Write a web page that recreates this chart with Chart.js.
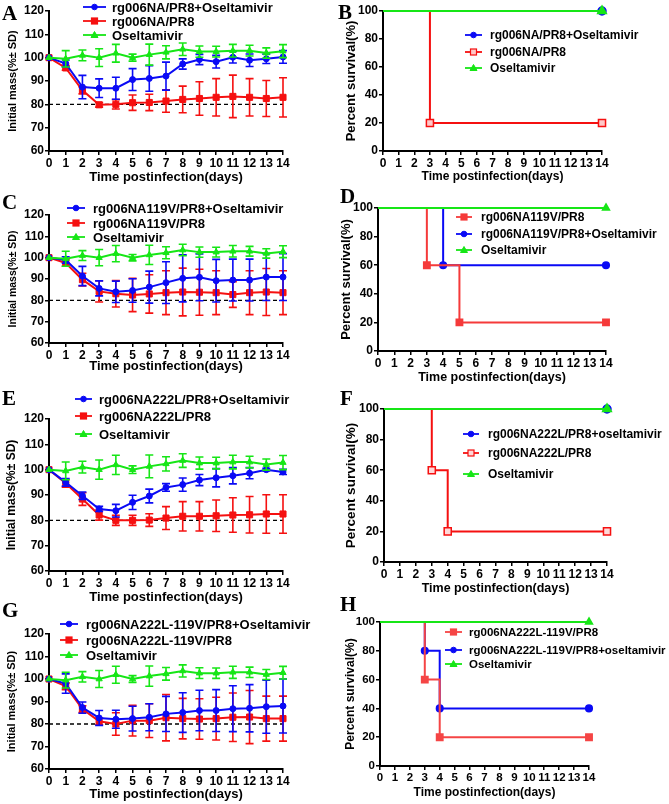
<!DOCTYPE html>
<html>
<head>
<meta charset="utf-8">
<script src="https://cdn.jsdelivr.net/npm/chart.js@4.4.1/dist/chart.umd.min.js"></script>
<style>
body { margin: 0; background: #fff; width: 669px; height: 804px; position: relative; overflow: hidden; }
canvas { position: absolute; }
.letter { position: absolute; font: bold 21px "Liberation Serif", "Times New Roman", serif; line-height: 1; color: #000; }
.leg { position: absolute; display: flex; align-items: center; height: 14px; white-space: nowrap;
       font-family: "Liberation Sans", Arial, sans-serif; font-weight: bold; color: #000; }
.leg svg { flex: none; }
</style>
</head>
<body>
<script>
const FONT = '"Liberation Sans", Arial, sans-serif';
const BLUE = '#0a0af5';
const RED = '#f51010';
const GREEN = '#16e616';

// days after infection
const days = [0, 1, 2, 3, 4, 5, 6, 7, 8, 9, 10, 11, 12, 13, 14];

// Oseltamivir only group (same curve in A, C, E, G)
const oselMean = [100, 99.5, 101, 100, 101.9, 100, 101.3, 102.3, 103.6, 102.6, 102.6, 103, 103, 102, 102.8];
const oselSd = [0, 3.5, 2.3, 3.8, 3.8, 1.5, 4.5, 2.8, 2.7, 2.4, 2.3, 2.7, 2.3, 2.2, 2.8];

// A: rg006NA
const aTreatMean = [100, 97.5, 87.4, 86.9, 86.9, 90.6, 91.1, 92.1, 97.3, 99.2, 98.3, 100.2, 98.9, 99.5, 100.3];
const aTreatSd = [0, 1.5, 5, 4, 4.7, 4.7, 5.5, 6, 2.2, 2.2, 2.7, 2.5, 2.7, 2, 2.7];
const aVirusMean = [100, 95.6, 86, 79.8, 80, 80.7, 80.8, 81.4, 82.1, 82.5, 83, 83.4, 83, 82.5, 83];
const aVirusSd = [0, 1, 1.5, 1, 2, 3.3, 3.5, 4.8, 5.7, 7.2, 8, 9.1, 8, 7.7, 8.4];

// C: rg006NA119V
const cTreatMean = [100, 98.9, 91.4, 85.6, 84, 84.6, 86.2, 88.3, 90.3, 90.8, 89.2, 89.5, 89.5, 90.9, 90.9];
const cTreatSd = [0, 1.5, 4.5, 3.5, 5, 5.5, 7.5, 9.8, 11, 11, 10, 9.8, 9.8, 11, 11];
const cVirusMean = [100, 97.5, 89.7, 84.2, 83.1, 82.5, 83, 83.6, 83.9, 83.8, 83.6, 82.7, 83.6, 83.9, 83.6];
const cVirusSd = [0, 1.5, 3, 5, 6.2, 7.8, 9, 10.3, 11.2, 10.8, 10.3, 6, 10.3, 11, 10.3];

// E: rg006NA222L
const eTreatMean = [100, 95, 89.7, 84.5, 83.8, 87.1, 89.6, 93, 94.1, 95.9, 96.8, 97.6, 98.6, 100, 99.1];
const eTreatSd = [0, 1.5, 1.5, 1, 2.5, 2.8, 2.7, 1.5, 2.6, 2.2, 3.6, 3.2, 2.2, 0.5, 1];
const eVirusMean = [100, 94.6, 88.4, 82.1, 80, 80, 80.1, 80.9, 81.6, 81.6, 81.8, 82.1, 82.2, 82.5, 82.5];
const eVirusSd = [0, 1.5, 2.5, 2, 2, 2, 2.5, 4.5, 5.8, 5.8, 6.2, 6.8, 7.2, 7.6, 7.6];

// G: rg006NA222L-119V
const gTreatMean = [100, 98, 87.3, 82.7, 82.1, 82.4, 83, 84.5, 85.1, 86, 86, 86.8, 87, 87.7, 88];
const gTreatSd = [0, 4.3, 2.5, 3.3, 4, 5.5, 6, 7.8, 8.8, 9, 9.3, 10.2, 10.5, 11.8, 12];
const gVirusMean = [100, 96.8, 86.6, 81.2, 80, 81.5, 81.5, 82.8, 82.4, 82.2, 82.4, 83, 83.1, 82.4, 82.4];
const gVirusSd = [0, 1.5, 1.5, 1.5, 5, 6.8, 7.5, 10.3, 9, 9, 9.5, 10.8, 11.8, 10, 10];

// survival (step points: day, percent)
const allAliveDays = [0, 14];
const allAlivePct = [100, 100];
const bVirusDays = [0, 3, 14];
const bVirusPct = [100, 20, 20];
const dVirusDays = [0, 3, 5, 14];
const dVirusPct = [100, 60, 20, 20];
const dTreatDays = [0, 4, 14];
const dTreatPct = [100, 60, 60];
const fVirusDays = [0, 3, 4, 14];
const fVirusPct = [100, 60, 20, 20];
const hVirusDays = [0, 3, 4, 14];
const hVirusPct = [100, 60, 20, 20];
const hTreatDays = [0, 3, 4, 14];
const hTreatPct = [100, 80, 40, 40];

// error bars drawn through the y scale
const errorBars = {
  id: 'errorBars',
  beforeDatasetDraw(chart, args) {
    const ds = chart.data.datasets[args.index];
    if (!ds.sd) return;
    const ys = chart.scales.y;
    const ctx = chart.ctx;
    ctx.save();
    ctx.strokeStyle = ds.borderColor;
    ctx.lineWidth = 1.6;
    args.meta.data.forEach((pt, i) => {
      const s = ds.sd[i];
      if (!s) return;
      const v = ds.data[i].y;
      const top = ys.getPixelForValue(v + s);
      const bot = ys.getPixelForValue(v - s);
      ctx.beginPath();
      ctx.moveTo(pt.x, top); ctx.lineTo(pt.x, bot);
      ctx.moveTo(pt.x - 4, top); ctx.lineTo(pt.x + 4, top);
      ctx.moveTo(pt.x - 4, bot); ctx.lineTo(pt.x + 4, bot);
      ctx.stroke();
    });
    ctx.restore();
  }
};

function place(p) {
  const cv = document.createElement('canvas');
  cv.width = p.canvas.w;
  cv.height = p.canvas.h;
  cv.style.left = p.canvas.l + 'px';
  cv.style.top = p.canvas.t + 'px';
  document.body.appendChild(cv);
  return cv;
}

function options(p, min, max, step, ytitle) {
  const c = p.canvas, a = p.area;
  const tickFont = { family: FONT, size: p.tick, weight: 'bold' };
  return {
    responsive: false,
    animation: false,
    events: [],
    layout: { padding: { left: 0, top: a.t - c.t, right: c.l + c.w - a.r, bottom: 0 } },
    plugins: { legend: { display: false }, tooltip: { enabled: false } },
    scales: {
      x: {
        type: 'linear', min: 0, max: 14,
        ticks: { stepSize: 1, autoSkip: false, maxRotation: 0, color: '#000', font: tickFont, padding: 1 },
        grid: { drawOnChartArea: false, color: '#000', lineWidth: 1.5, tickLength: 4 },
        border: { color: '#000', width: 2 },
        title: {
          display: true, text: 'Time postinfection(days)', color: '#000',
          font: { family: FONT, size: p.xt, weight: 'bold' },
          padding: { top: 0, bottom: c.t + c.h - p.xtY - p.xt * 0.6 }
        },
        afterFit: s => { s.height = c.t + c.h - a.b; }
      },
      y: {
        min: min, max: max,
        ticks: { stepSize: step, color: '#000', font: tickFont, padding: 1 },
        grid: { drawOnChartArea: false, color: '#000', lineWidth: 1.5, tickLength: 4 },
        border: { color: '#000', width: 2 },
        title: {
          display: true, text: ytitle, color: '#000',
          font: { family: FONT, size: p.yt, weight: 'bold' },
          padding: { top: p.ytX - c.l - p.yt * 0.6, bottom: 0 }
        },
        afterFit: s => { s.width = a.l - c.l; }
      }
    }
  };
}

function massPanel(p) {
  const cv = place(p);
  const sets = p.series.map(s => ({
    data: days.map((d, i) => ({ x: d, y: s.mean[i] })),
    sd: s.sd,
    borderColor: s.color,
    backgroundColor: s.color,
    borderWidth: 2,
    pointStyle: s.shape,
    pointRadius: s.r,
    pointBorderWidth: 1,
    order: s.order,
    clip: false
  }));
  sets.push({
    data: [{ x: 0, y: 80 }, { x: 14, y: 80 }],
    borderColor: '#000', borderWidth: 1.3, borderDash: [4, 3],
    pointRadius: 0, order: 9
  });
  new Chart(cv, {
    type: 'line',
    data: { datasets: sets },
    options: options(p, 60, 120, 10, 'Initial mass(%\u00b1 SD)'),
    plugins: [errorBars]
  });
}

function survPanel(p) {
  const cv = place(p);
  const sets = p.series.map(s => ({
    data: s.days.map((d, i) => ({ x: d, y: s.pct[i] })),
    stepped: 'before',
    borderColor: s.color,
    backgroundColor: s.fill,
    borderWidth: 2,
    pointStyle: s.shape,
    pointRadius: s.days.map((d, i) => (i === 0 ? 0 : s.r)),
    pointBorderColor: s.color,
    pointBorderWidth: 1.5,
    order: s.order,
    clip: false
  }));
  new Chart(cv, {
    type: 'line',
    data: { datasets: sets },
    options: options(p, 0, 100, 20, 'Percent survival(%)')
  });
}

function marker(shape, color, fill, len) {
  const m = len / 2;
  let mk = '';
  if (shape === 'circle') mk = `<circle cx="${m}" cy="6" r="2.8" fill="${fill}" stroke="${color}" stroke-width="1"/>`;
  if (shape === 'rect') mk = `<rect x="${m - 3}" y="3" width="6" height="6" fill="${fill}" stroke="${color}" stroke-width="1.2"/>`;
  if (shape === 'triangle') mk = `<polygon points="${m},2.5 ${m + 3.5},8.5 ${m - 3.5},8.5" fill="${fill}" stroke="${color}" stroke-width="1"/>`;
  return `<svg width="${len}" height="12"><line x1="0" y1="6" x2="${len}" y2="6" stroke="${color}" stroke-width="1.8"/>${mk}</svg>`;
}

function legend(lg) {
  lg.items.forEach((it, k) => {
    const d = document.createElement('div');
    d.className = 'leg';
    d.style.left = lg.x + 'px';
    d.style.top = (lg.rows[k] - 7) + 'px';
    d.style.fontSize = lg.size + 'px';
    d.innerHTML = marker(it.shape, it.color, it.fill || it.color, lg.len) +
      `<span style="margin-left:${lg.gap}px">${it.label}</span>`;
    document.body.appendChild(d);
  });
}

function letter(ch, x, y) {
  const d = document.createElement('div');
  d.className = 'letter';
  d.textContent = ch;
  d.style.left = x + 'px';
  d.style.top = y + 'px';
  document.body.appendChild(d);
}

const blueS = (mean, sd) => ({ mean, sd, color: BLUE, shape: 'circle', r: 3, order: 1 });
const redS = (mean, sd) => ({ mean, sd, color: RED, shape: 'rect', r: 4.3, order: 2 });
const greenS = () => ({ mean: oselMean, sd: oselSd, color: GREEN, shape: 'triangle', r: 3.6, order: 0 });

// weight panels
massPanel({ canvas: { l: 0, t: 0, w: 330, h: 189 }, area: { l: 49, t: 11, r: 283, b: 151 },
  tick: 12, xt: 13, xtY: 177, yt: 11, ytX: 13,
  series: [blueS(aTreatMean, aTreatSd), redS(aVirusMean, aVirusSd), greenS()] });
massPanel({ canvas: { l: 0, t: 195, w: 330, h: 183 }, area: { l: 49, t: 215, r: 283, b: 343 },
  tick: 12, xt: 13, xtY: 366, yt: 10.5, ytX: 13,
  series: [blueS(cTreatMean, cTreatSd), redS(cVirusMean, cVirusSd), greenS()] });
massPanel({ canvas: { l: 0, t: 400, w: 330, h: 209 }, area: { l: 49, t: 419, r: 283, b: 571 },
  tick: 12, xt: 13, xtY: 597, yt: 12, ytX: 12,
  series: [blueS(eTreatMean, eTreatSd), redS(eVirusMean, eVirusSd), greenS()] });
massPanel({ canvas: { l: 0, t: 615, w: 330, h: 189 }, area: { l: 49, t: 634, r: 283, b: 769 },
  tick: 12, xt: 13, xtY: 794, yt: 11, ytX: 12,
  series: [blueS(gTreatMean, gTreatSd), redS(gVirusMean, gVirusSd), greenS()] });

// survival panels
const sv = (days, pct, color, fill, shape, r, order) => ({ days, pct, color, fill, shape, r, order });
survPanel({ canvas: { l: 335, t: 0, w: 334, h: 189 }, area: { l: 383, t: 11, r: 602, b: 151 },
  tick: 12, xt: 12, xtY: 177, yt: 13, ytX: 351,
  series: [sv(allAliveDays, allAlivePct, BLUE, BLUE, 'circle', 4, 2),
           sv(bVirusDays, bVirusPct, RED, '#ffc8c8', 'rect', 5, 1),
           sv(allAliveDays, allAlivePct, GREEN, GREEN, 'triangle', 5, 0)] });
survPanel({ canvas: { l: 335, t: 190, w: 334, h: 200 }, area: { l: 378, t: 208, r: 606, b: 351 },
  tick: 12, xt: 12.5, xtY: 378, yt: 13, ytX: 346,
  series: [sv(dVirusDays, dVirusPct, '#f53a3a', '#f53a3a', 'rect', 4.5, 1),
           sv(dTreatDays, dTreatPct, BLUE, BLUE, 'circle', 3.3, 2),
           sv(allAliveDays, allAlivePct, GREEN, GREEN, 'triangle', 4, 0)] });
survPanel({ canvas: { l: 335, t: 390, w: 334, h: 211 }, area: { l: 384, t: 409, r: 607, b: 562 },
  tick: 12, xt: 12.5, xtY: 589, yt: 13.5, ytX: 351,
  series: [sv(allAliveDays, allAlivePct, BLUE, BLUE, 'circle', 4, 2),
           sv(fVirusDays, fVirusPct, RED, '#ffd8d8', 'rect', 5, 1),
           sv(allAliveDays, allAlivePct, GREEN, GREEN, 'triangle', 5, 0)] });
survPanel({ canvas: { l: 335, t: 605, w: 334, h: 199 }, area: { l: 380, t: 622, r: 589, b: 766 },
  tick: 11.5, xt: 12, xtY: 793, yt: 12, ytX: 351,
  series: [sv(hVirusDays, hVirusPct, '#f54545', '#f54545', 'rect', 4.5, 1),
           sv(hTreatDays, hTreatPct, BLUE, BLUE, 'circle', 3.3, 2),
           sv(allAliveDays, allAlivePct, GREEN, GREEN, 'triangle', 4, 0)] });

// legends
const lb = (label, color, shape, fill) => ({ label, color, shape, fill });
legend({ x: 83, len: 23, gap: 6, rows: [7, 21, 35], size: 13,
  items: [lb('rg006NA/PR8+Oseltamivir', BLUE, 'circle'), lb('rg006NA/PR8', RED, 'rect'), lb('Oseltamivir', GREEN, 'triangle')] });
legend({ x: 465, len: 17, gap: 8, rows: [35, 52, 68], size: 12,
  items: [lb('rg006NA/PR8+Oseltamivir', BLUE, 'circle'), lb('rg006NA/PR8', RED, 'rect', '#ffc8c8'), lb('Oseltamivir', GREEN, 'triangle')] });
legend({ x: 67, len: 18, gap: 8, rows: [208, 223, 237], size: 13,
  items: [lb('rg006NA119V/PR8+Oseltamivir', BLUE, 'circle'), lb('rg006NA119V/PR8', RED, 'rect'), lb('Oseltamivir', GREEN, 'triangle')] });
legend({ x: 456, len: 16, gap: 9, rows: [217, 234, 250], size: 12,
  items: [lb('rg006NA119V/PR8', '#f53a3a', 'rect'), lb('rg006NA119V/PR8+Oseltamivir', BLUE, 'circle'), lb('Oseltamivir', GREEN, 'triangle')] });
legend({ x: 75, len: 17, gap: 7, rows: [399, 416, 434], size: 13,
  items: [lb('rg006NA222L/PR8+Oseltamivir', BLUE, 'circle'), lb('rg006NA222L/PR8', RED, 'rect'), lb('Oseltamivir', GREEN, 'triangle')] });
legend({ x: 463, len: 16, gap: 9, rows: [434, 453, 474], size: 12,
  items: [lb('rg006NA222L/PR8+oseltamivir', BLUE, 'circle'), lb('rg006NA222L/PR8', RED, 'rect', '#ffd8d8'), lb('Oseltamivir', GREEN, 'triangle')] });
legend({ x: 60, len: 18, gap: 8, rows: [624, 640, 655], size: 13,
  items: [lb('rg006NA222L-119V/PR8+Oseltamivir', BLUE, 'circle'), lb('rg006NA222L-119V/PR8', RED, 'rect'), lb('Oseltamivir', GREEN, 'triangle')] });
legend({ x: 445, len: 17, gap: 7, rows: [632, 650, 664], size: 11.5,
  items: [lb('rg006NA222L-119V/PR8', '#f54545', 'rect'), lb('rg006NA222L-119V/PR8+oseltamivir', BLUE, 'circle'), lb('Oseltamivir', GREEN, 'triangle')] });

// panel letters
letter('A', 2, 3);
letter('B', 338, 2);
letter('C', 2, 192);
letter('D', 340, 186);
letter('E', 2, 388);
letter('F', 340, 388);
letter('G', 2, 600);
letter('H', 340, 594);
</script>
</body>
</html>
